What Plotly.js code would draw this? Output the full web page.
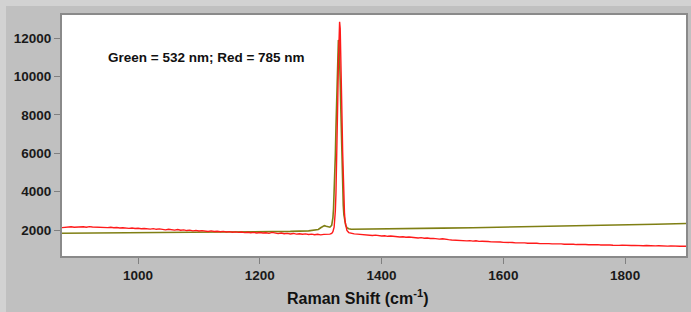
<!DOCTYPE html>
<html>
<head>
<meta charset="utf-8">
<script src="https://cdn.plot.ly/plotly-3.0.1.min.js"></script>
<style>
html,body{margin:0;padding:0;background:#d2d2d2;width:691px;height:312px;overflow:hidden;}
#chart{position:absolute;left:6px;top:6px;width:685px;height:306px;}
</style>
</head>
<body>
<div id="chart"></div>
<script>
// Green (532 nm) spectrum
const greenShift = [875, 900, 950, 1000, 1050, 1100, 1150, 1200, 1250, 1280, 1290, 1296, 1300, 1303, 1306, 1309, 1312, 1315, 1318, 1319, 1320, 1321, 1322, 1323, 1324, 1325, 1326, 1327, 1328, 1329, 1330, 1331, 1332, 1333, 1334, 1335, 1336, 1337, 1338, 1339, 1341, 1343, 1346, 1350, 1400, 1430, 1460, 1500, 1550, 1600, 1650, 1700, 1750, 1800, 1850, 1900];
const greenCounts = [1835, 1840, 1845, 1850, 1855, 1865, 1880, 1900, 1930, 1960, 1985, 2030, 2120, 2200, 2230, 2200, 2160, 2150, 2250, 2400, 2650, 3100, 3800, 4700, 5900, 7300, 8800, 10200, 11300, 11900, 11750, 11000, 9800, 8300, 6700, 5300, 4100, 3300, 2800, 2500, 2250, 2130, 2070, 2040, 2050, 2070, 2080, 2100, 2125, 2150, 2180, 2210, 2240, 2270, 2300, 2340];

// Red (785 nm) spectrum
const redShift = [875, 880, 885, 890, 895, 900, 905, 910, 915, 920, 925, 930, 935, 940, 945, 950, 955, 960, 965, 970, 975, 980, 985, 990, 995, 1000, 1005, 1010, 1015, 1020, 1025, 1030, 1035, 1040, 1045, 1050, 1055, 1060, 1065, 1070, 1075, 1080, 1085, 1090, 1095, 1100, 1105, 1110, 1115, 1120, 1125, 1130, 1135, 1140, 1145, 1150, 1155, 1160, 1165, 1170, 1175, 1180, 1185, 1190, 1195, 1200, 1205, 1210, 1215, 1220, 1225, 1230, 1235, 1240, 1245, 1250, 1255, 1260, 1265, 1270, 1275, 1280, 1285, 1290, 1295, 1300, 1305, 1310, 1315, 1318, 1320, 1322, 1323, 1324, 1325, 1326, 1327, 1328, 1329, 1330, 1331, 1332, 1333, 1334, 1335, 1336, 1337, 1338, 1339, 1340, 1341, 1343, 1346, 1350, 1355, 1360, 1365, 1370, 1375, 1380, 1385, 1390, 1395, 1400, 1405, 1410, 1415, 1420, 1425, 1430, 1435, 1440, 1445, 1450, 1455, 1460, 1465, 1470, 1475, 1480, 1485, 1490, 1495, 1500, 1505, 1510, 1515, 1520, 1525, 1530, 1535, 1540, 1545, 1550, 1555, 1560, 1565, 1570, 1575, 1580, 1585, 1590, 1595, 1600, 1605, 1610, 1615, 1620, 1625, 1630, 1635, 1640, 1645, 1650, 1655, 1660, 1665, 1670, 1675, 1680, 1685, 1690, 1695, 1700, 1705, 1710, 1715, 1720, 1725, 1730, 1735, 1740, 1745, 1750, 1755, 1760, 1765, 1770, 1775, 1780, 1785, 1790, 1795, 1800, 1805, 1810, 1815, 1820, 1825, 1830, 1835, 1840, 1845, 1850, 1855, 1860, 1865, 1870, 1875, 1880, 1885, 1890, 1895, 1900];
const redCounts = [2130, 2150, 2140, 2170, 2150, 2160, 2190, 2170, 2150, 2180, 2160, 2150, 2170, 2140, 2150, 2130, 2145, 2120, 2135, 2110, 2125, 2100, 2090, 2110, 2080, 2095, 2070, 2085, 2060, 2050, 2075, 2040, 2060, 2030, 2010, 2045, 2020, 2000, 2030, 1990, 2010, 1975, 1995, 1960, 1985, 1950, 1970, 1945, 1930, 1960, 1925, 1940, 1910, 1930, 1900, 1920, 1890, 1905, 1880, 1900, 1870, 1890, 1860, 1880, 1850, 1875, 1845, 1860, 1830, 1880, 1830, 1815, 1850, 1810, 1830, 1800, 1825, 1790, 1810, 1780, 1800, 1770, 1790, 1760, 1780, 1750, 1775, 1770, 1790, 1830, 1920, 2150, 2450, 3000, 3900, 5200, 6900, 8800, 10700, 12200, 12850, 12500, 11300, 9600, 7800, 6100, 4700, 3600, 2900, 2450, 2200, 1980, 1870, 1830, 1800, 1790, 1770, 1780, 1750, 1740, 1720, 1735, 1700, 1690, 1705, 1675, 1690, 1660, 1670, 1640, 1655, 1625, 1640, 1610, 1620, 1590, 1605, 1575, 1590, 1560, 1570, 1545, 1530, 1550, 1510, 1500, 1485, 1470, 1480, 1450, 1465, 1440, 1450, 1425, 1440, 1410, 1420, 1395, 1405, 1385, 1395, 1370, 1380, 1360, 1370, 1345, 1355, 1335, 1345, 1325, 1335, 1315, 1325, 1305, 1315, 1295, 1305, 1285, 1295, 1280, 1290, 1270, 1280, 1265, 1275, 1255, 1265, 1245, 1260, 1240, 1250, 1235, 1245, 1225, 1240, 1220, 1235, 1215, 1225, 1210, 1225, 1205, 1215, 1200, 1210, 1195, 1205, 1190, 1200, 1185, 1195, 1180, 1190, 1175, 1185, 1170, 1180, 1165, 1175, 1160, 1170, 1155, 1165, 1160];

const xTicks = [1000, 1200, 1400, 1600, 1800];
const yTicks = [2000, 4000, 6000, 8000, 10000, 12000];
const noteText = 'Green = 532 nm; Red = 785 nm';
const xTitle = 'Raman Shift (cm<sup>-1</sup>)';

const traces = [
  {x: greenShift, y: greenCounts, type: 'scatter', mode: 'lines', line: {color: '#7f7f14', width: 1.6}, hoverinfo: 'skip'},
  {x: redShift, y: redCounts, type: 'scatter', mode: 'lines', line: {color: '#ff1a1a', width: 1.4}, hoverinfo: 'skip'}
];

const fam = 'Liberation Sans, Arial, sans-serif';
const axisFont = {family: fam, size: 13.5, color: '#1a1a1a', weight: 'bold'};

const layout = {
  width: 685, height: 306,
  margin: {l: 56, r: 5, t: 9, b: 56},
  paper_bgcolor: '#c0c0c0',
  plot_bgcolor: '#ffffff',
  showlegend: false,
  xaxis: {
    range: [875, 1900], tickvals: xTicks, ticktext: xTicks.map(String),
    ticks: 'outside', ticklen: 6, tickcolor: '#808080', tickwidth: 1,
    showgrid: false, zeroline: false,
    showline: true, mirror: true, linecolor: '#8a8a8a', linewidth: 2,
    tickfont: axisFont
  },
  yaxis: {
    range: [650, 13200], tickvals: yTicks, ticktext: yTicks.map(String),
    ticks: 'outside', ticklen: 6, tickcolor: '#808080', tickwidth: 1,
    showgrid: false, zeroline: false,
    showline: true, mirror: true, linecolor: '#8a8a8a', linewidth: 2,
    tickfont: axisFont
  },
  annotations: [
    {
      text: noteText, xref: 'paper', yref: 'paper', x: 0.232, y: 0.825,
      xanchor: 'center', yanchor: 'middle', showarrow: false,
      font: {family: fam, size: 13.5, color: '#111', weight: 'bold'}
    },
    {
      text: xTitle, xref: 'paper', yref: 'paper', x: 0.474, y: -0.17,
      xanchor: 'center', yanchor: 'middle', showarrow: false,
      font: {family: fam, size: 16, color: '#111', weight: 'bold'}
    }
  ]
};

Plotly.newPlot('chart', traces, layout, {displayModeBar: false, staticPlot: true});
</script>
</body>
</html>
